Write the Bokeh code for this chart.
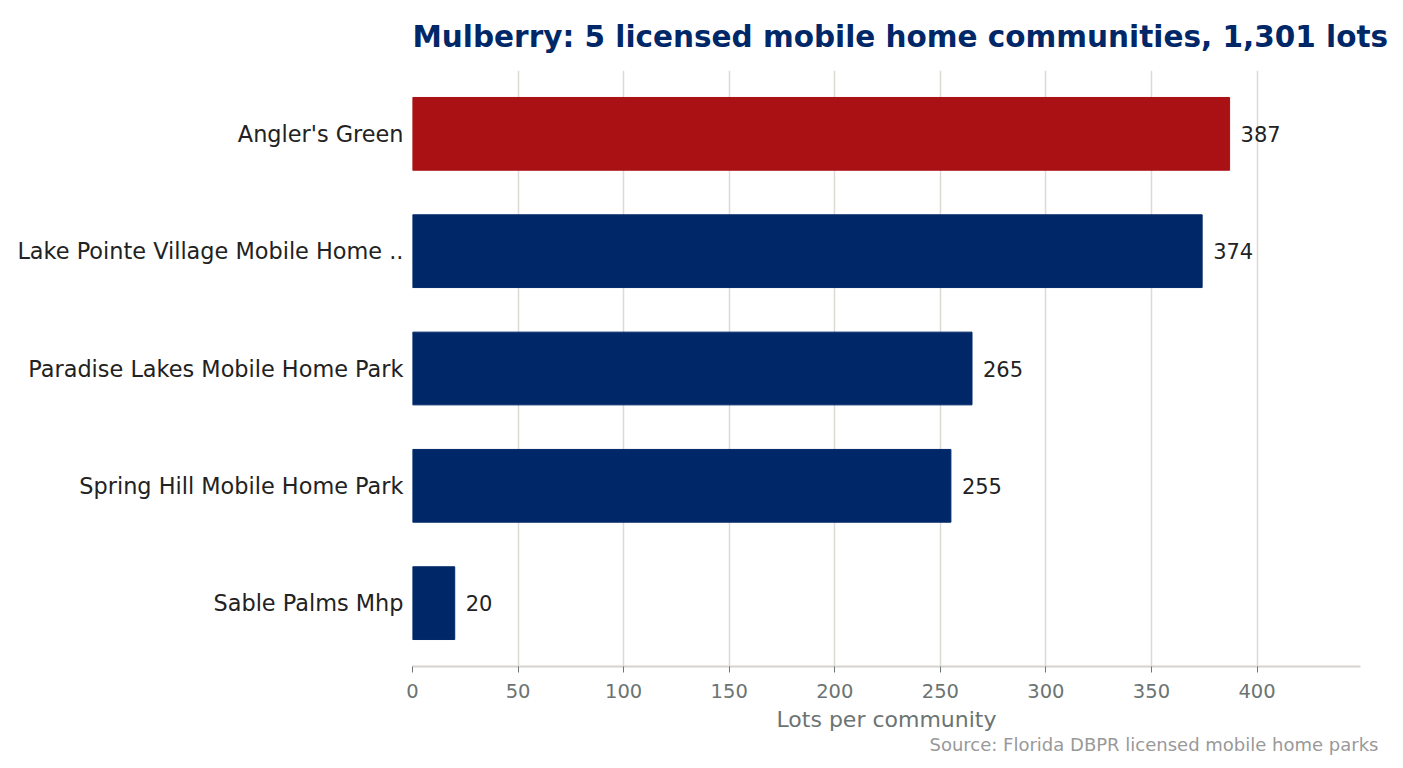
from bokeh.plotting import figure
from bokeh.models import Range1d, Title, ColumnDataSource, FixedTicker
from bokeh.core.properties import value
from bokeh.embed import file_html
from bokeh.resources import INLINE

# data
communities = ["Angler's Green", "Lake Pointe Village Mobile Home ..",
               "Paradise Lakes Mobile Home Park", "Spring Hill Mobile Home Park",
               "Sable Palms Mhp"]
lots = [387, 374, 265, 255, 20]
bar_colors = ["#A91115", "#002868", "#002868", "#002868", "#002868"]
x_ticks = [0, 50, 100, 150, 200, 250, 300, 350, 400]

FONT = "DejaVu Sans"
pos = list(range(len(communities)))

src = ColumnDataSource(dict(y=pos, lots=lots, color=bar_colors,
                            label=[str(v) for v in lots]))

p = figure(width=1395, height=760, output_backend="svg", toolbar_location=None,
           x_range=Range1d(0, 449), y_range=Range1d(4.54, -0.54),
           min_border_left=412, min_border_top=70, min_border_bottom=94,
           min_border_right=35)
p.outline_line_color = None

p.hbar(y="y", right="lots", left=0, height=0.62, color="color", source=src)
p.text(x="lots", y="y", text="label", source=src, x_offset=11,
       text_baseline="middle", text_color="#222222",
       text_font=value(FONT), text_font_size="21px")

# title
p.title.text = "Mulberry: 5 licensed mobile home communities, 1,301 lots"
p.title.text_font = FONT
p.title.text_font_size = "29.5px"
p.title.text_color = "#002868"
p.title.text_font_style = "bold"
p.title.align = "left"
p.title.vertical_align = "top"
p.title.standoff = 30

# x axis
xa = p.xaxis[0]
xa.ticker = FixedTicker(ticks=x_ticks)
xa.axis_label = "Lots per community"
xa.axis_label_text_font = FONT
xa.axis_label_text_font_size = "22px"
xa.axis_label_text_font_style = "normal"
xa.axis_label_text_color = "#6b7472"
xa.axis_label_standoff = 6
xa.major_label_text_font = FONT
xa.major_label_text_font_size = "19.5px"
xa.major_label_text_color = "#6b7472"
xa.major_label_standoff = 11
xa.axis_line_color = "#d6d3cd"
xa.axis_line_width = 2
xa.major_tick_line_color = "#6b7472"
xa.major_tick_in = 0
xa.major_tick_out = 6
xa.minor_tick_line_color = None

# y axis
ya = p.yaxis[0]
ya.ticker = FixedTicker(ticks=pos)
ya.major_label_overrides = {i: c for i, c in zip(pos, communities)}
ya.major_label_text_font = FONT
ya.major_label_text_font_size = "22.4px"
ya.major_label_text_color = "#222222"
ya.axis_line_color = None
ya.major_tick_line_color = None
ya.minor_tick_line_color = None
ya.major_label_standoff = 3

p.xgrid.ticker = FixedTicker(ticks=x_ticks)
p.xgrid.grid_line_color = "#dddad5"
p.xgrid.grid_line_width = 1.5
p.ygrid.grid_line_color = None

src_note = Title(text="Source: Florida DBPR licensed mobile home parks",
                 align="right", text_font=FONT, text_font_size="18px",
                 text_font_style="normal", text_color="#999999", offset=-18,
                 standoff=-5)
p.add_layout(src_note, "below")

open("out.html", "w").write(file_html(p, INLINE))
